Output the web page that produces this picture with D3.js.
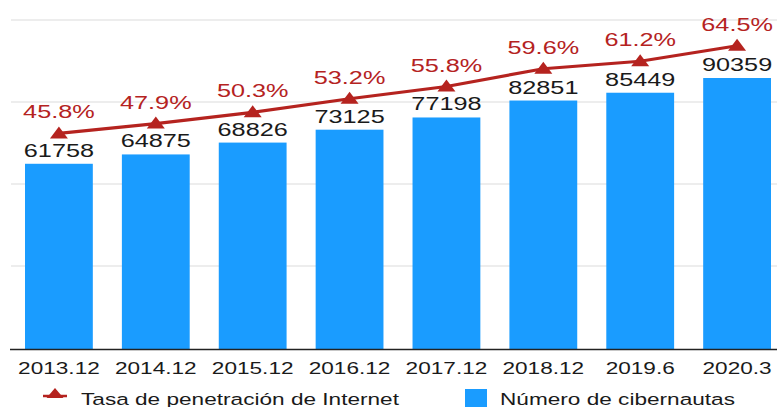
<!DOCTYPE html>
<html><head><meta charset="utf-8">
<script src="https://cdn.jsdelivr.net/npm/d3@7"></script>
<style>body{margin:0;background:#fff}svg{display:block}text{font-family:"Liberation Sans",Arial,sans-serif}</style>
</head><body>
<svg id="c" width="777" height="407"></svg>
<script>
const categories = ["2013.12","2014.12","2015.12","2016.12","2017.12","2018.12","2019.6","2020.3"];
const users = [61758,64875,68826,73125,77198,82851,85449,90359];
const rates = [45.8,47.9,50.3,53.2,55.8,59.6,61.2,64.5];
const gridTicks = [0,17.5,35,52.5,70];
const legendLabels = ["Tasa de penetración de Internet","Número de cibernautas"];

const blue = "#1a9cff", red = "#b5231f", ink = "#1a1a1a";
const SX = 1.33; // horizontal stretch of the reference text
const svg = d3.select("#c");
const baseY = 349, topY = 20;
const x = d3.scaleBand().domain(categories).range([25,771]).paddingInner(0.3).paddingOuter(0);
const yBar = d3.scaleLinear().domain([0,109700]).range([baseY,topY]);
const yRate = d3.scaleLinear().domain([0,70]).range([baseY-1,topY]);
const cx = (i)=>x(categories[i])+x.bandwidth()/2;

// gridlines
svg.append("g").selectAll("line").data(gridTicks.slice(1)).join("line")
  .attr("x1",11).attr("x2",777)
  .attr("y1",d=>yRate(d)).attr("y2",d=>yRate(d))
  .attr("stroke","#dcdcdc").attr("stroke-width",1.2);

// bars
svg.append("g").selectAll("rect").data(users).join("rect")
  .attr("x",(d,i)=>x(categories[i])).attr("width",x.bandwidth())
  .attr("y",d=>yBar(d)).attr("height",d=>baseY-yBar(d))
  .attr("fill",blue);

// x axis
const xAxis = svg.append("g").attr("transform",`translate(0,${baseY})`)
  .call(d3.axisBottom(x).tickSize(0).tickPadding(13));
xAxis.select(".domain").attr("d","M10,0.5H777").attr("stroke","#222").attr("stroke-width",1.5);
xAxis.selectAll(".tick text").attr("font-size",17).attr("fill",ink)
  .attr("font-family","'Liberation Sans',Arial,sans-serif")
  .attr("transform",`scale(${SX},1)`)
  .attr("x",0);
xAxis.selectAll(".tick").attr("transform",d=>`translate(${x(d)+x.bandwidth()/2},0)`);

// value labels
svg.append("g").selectAll("text").data(users).join("text")
  .attr("transform",(d,i)=>`translate(${cx(i)},${yBar(d)-7}) scale(${SX},1)`)
  .attr("text-anchor","middle").attr("font-size",19).attr("fill",ink)
  .text(d=>d);

// line
const line = d3.line().x((d,i)=>cx(i)).y(d=>yRate(d));
svg.append("path").datum(rates).attr("d",line)
  .attr("fill","none").attr("stroke",red).attr("stroke-width",3.2);

const triPath = (w,h)=>`M${-w/2},${h/2}L0,${-h/2}L${w/2},${h/2}Z`;
svg.append("g").selectAll("path").data(rates).join("path")
  .attr("d",triPath(18,12)).attr("fill",red)
  .attr("transform",(d,i)=>`translate(${cx(i)},${yRate(d)-1})`);

svg.append("g").selectAll("text").data(rates).join("text")
  .attr("transform",(d,i)=>`translate(${cx(i)},${yRate(d)-15}) scale(${SX},1)`)
  .attr("text-anchor","middle").attr("font-size",19).attr("fill",red)
  .text(d=>d.toFixed(1)+"%");

// legend
const lg = svg.append("g");
lg.append("line").attr("x1",43).attr("x2",67).attr("y1",396).attr("y2",396).attr("stroke",red).attr("stroke-width",2.5);
lg.append("path").attr("d",triPath(17,10)).attr("fill",red).attr("transform","translate(55,393)");
lg.append("text").attr("transform",`translate(81,405) scale(${SX},1)`).attr("font-size",17).attr("fill",ink).text(legendLabels[0]);
lg.append("rect").attr("x",465).attr("y",389).attr("width",22).attr("height",22).attr("fill",blue);
lg.append("text").attr("transform",`translate(500,405) scale(${SX},1)`).attr("font-size",17).attr("fill",ink).text(legendLabels[1]);
</script>
</body></html>
